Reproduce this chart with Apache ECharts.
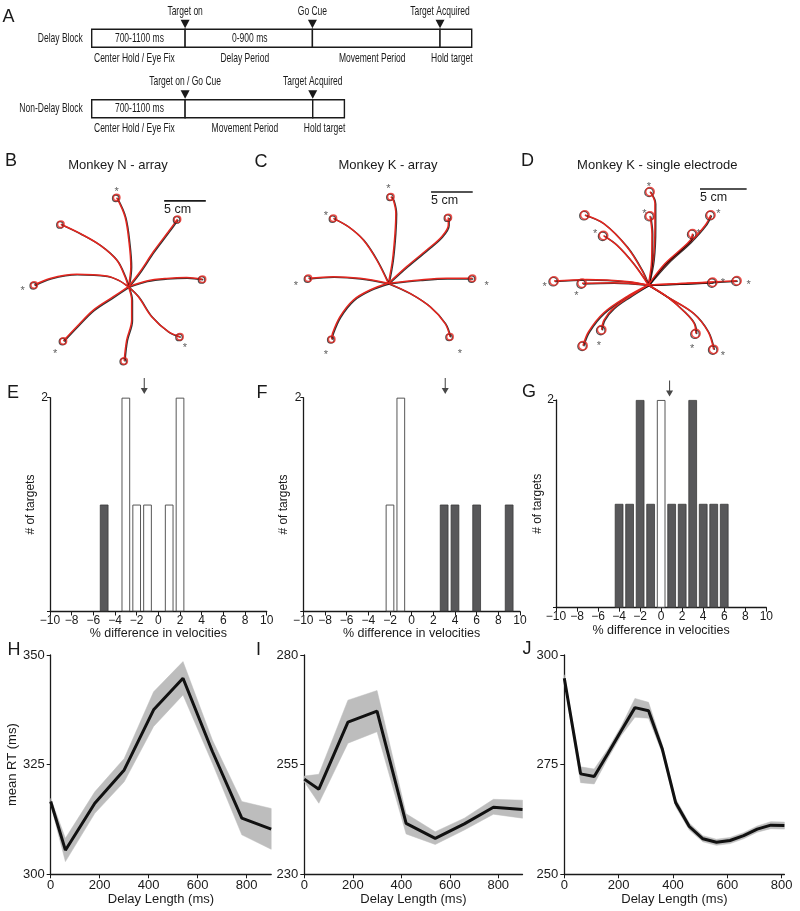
<!DOCTYPE html>
<html><head><meta charset="utf-8">
<script src="https://cdn.jsdelivr.net/npm/echarts@6/dist/echarts.min.js"></script>
<style>html,body{margin:0;padding:0;background:#fff}#c{width:800px;height:911px}</style>
</head><body><div id="c"></div>
<script>
// ---------------- DATA ----------------
// Panel A: timeline (diagram units), [start, end, row]
const timelineRows = ['Delay Block', 'Non-Delay Block'];
const timelineSegments = [[0, 2.95, 0], [2.95, 6.97, 0], [6.97, 11, 0], [11, 12, 0],
                          [0, 2.95, 1], [2.95, 6.98, 1], [6.98, 7.98, 1]];
const segmentInner = ['700-1100 ms', '0-900 ms', '', '', '700-1100 ms', '', ''];
const segmentBelow = ['Center Hold / Eye Fix', 'Delay Period', 'Movement Period', 'Hold target',
                      'Center Hold / Eye Fix', 'Movement Period', 'Hold target'];
const timelineEvents = [[2.95, 0], [6.97, 0], [11, 0], [2.95, 1], [6.98, 1]];
const eventLabels = ['Target on', 'Go Cue', 'Target Acquired', 'Target on / Go Cue', 'Target Acquired'];

// Panels B-D: hand trajectories (cm from centre)
const trajB = [
  [[0,0],[0.3,2.4],[0.1,5.2],[-0.4,8.4],[-1.4,10.7]],
  [[0,0],[-0.4,1.2],[-1.4,3.2],[-3.4,5.0],[-5.8,6.4],[-8.1,7.5]],
  [[0,0],[1.4,1.8],[3.0,4.2],[4.8,6.6],[5.9,8.1]],
  [[0,0],[2.2,0.7],[4.6,1.0],[7.0,1.1],[8.9,0.9]],
  [[0,0],[-1.2,0.8],[-2.6,1.3],[-6.2,1.5],[-9.4,1.0],[-11.3,0.2]],
  [[0,0],[-1.8,-1.2],[-4.2,-2.8],[-6.2,-4.8],[-7.8,-6.5]],
  [[0,0],[0.4,-1.6],[0.4,-4.0],[-0.2,-6.4],[-0.5,-8.9]],
  [[0,0],[1.2,-1.2],[2.8,-3.6],[4.8,-5.4],[6.2,-6.0]]
];
const starsB = [[-1.4,11.7],[-12.7,-0.2],[-8.8,-7.7],[6.8,-7.0]];
const trajC = [
  [[0,0],[0.5,2.8],[0.8,6.0],[0.9,8.4],[0.6,10.0],[0.3,10.4]],
  [[0,0],[-1.4,2.8],[-3.0,5.2],[-4.8,6.8],[-6.6,7.8]],
  [[0,0],[2.2,2.0],[4.6,4.0],[6.4,5.6],[7.2,7.0],[7.2,7.9]],
  [[0,0],[-3.4,0.6],[-6.6,0.8],[-9.6,0.6]],
  [[0,0],[3.8,0.4],[7.0,0.6],[10.1,0.6]],
  [[0,0],[-2.2,-0.8],[-4.2,-2.0],[-5.8,-4.0],[-6.7,-6.0],[-6.8,-6.7]],
  [[0,0],[2.6,-1.2],[5.0,-2.8],[6.8,-4.8],[7.4,-6.4]]
];
const starsC = [[0,11.7],[-7.5,8.4],[-11.1,0.1],[11.8,0.1],[-7.5,-8.2],[8.6,-8.1]];
const trajD = [
  [[0,0],[0.54,2.7],[0.71,6.25],[0.71,8.75],[0.18,10.0]],
  [[0,0],[0.36,2.7],[0.39,5.5],[0.18,7.4]],
  [[0,0],[-0.7,1.6],[-2.3,4.1],[-4.8,6.6],[-6.8,7.5]],
  [[0,0],[-1.6,2.3],[-3.4,4.3],[-4.8,5.3]],
  [[0,0],[2.0,2.3],[4.5,4.6],[6.1,6.4],[6.7,7.5]],
  [[0,0],[1.6,2.1],[3.4,3.75],[4.5,4.8],[4.75,5.5]],
  [[0,0],[-2.0,0.36],[-6.6,0.6],[-10.1,0.43]],
  [[0,0],[-3.75,0.25],[-7.1,0.18]],
  [[0,0],[4.1,0.18],[9.5,0.46]],
  [[0,0],[4.1,0.18],[6.9,0.29]],
  [[0,0],[-2.3,-1.25],[-4.8,-3.0],[-6.4,-5.0],[-7.0,-6.5]],
  [[0,0],[-2.0,-1.25],[-3.75,-2.5],[-4.75,-3.75],[-5.0,-4.8]],
  [[0,0],[2.0,-1.25],[4.8,-3.0],[6.4,-5.0],[7.0,-6.9]],
  [[0,0],[2.0,-1.25],[3.9,-2.9],[4.9,-4.1],[5.1,-5.2]]
];
const starsD = [[0.07,10.8],[-0.43,7.9],[-5.7,5.8],[7.5,7.9],[5.4,5.8],[-11.1,0.07],[-7.7,-0.9],
                [10.75,0.36],[8.0,0.54],[-5.3,-6.2],[8.0,-7.3],[4.7,-6.5]];
const scaleBarB = [[4.3,10.3],[9.3,10.3]];
const scaleBarC = [[5.13,10.96],[10.13,10.96]];
const scaleBarD = [[5.54,10.29],[10.54,10.29]];

// Panels E-G: histograms [% difference, # of targets]
const histE_sig = [[-5,1]];
const histE_ns = [[-3,2],[-2,1],[-1,1],[1,1],[2,2]];
const histF_sig = [[3,1],[4,1],[6,1],[9,1]];
const histF_ns = [[-2,1],[-1,2]];
const histG_sig = [[-4,1],[-3,1],[-2,2],[-1,1],[1,1],[2,1],[3,2],[4,1],[5,1],[6,1]];
const histG_ns = [[0,2]];
const meanE = -1.3, meanF = 3.1, meanG = 0.8;

// Panels H-J: mean RT vs delay
const delayH = [0,60,180,300,420,540,660,780,900];
const rtH    = [316.6,305.5,316.2,323.8,337.5,344.7,328.0,312.8,310.3];
const rtH_hi = [317.3,308.2,318.8,326.4,341.6,348.5,330.6,316.6,315.0];
const rtH_lo = [315.9,302.9,313.9,321.1,333.7,340.9,325.3,309.0,305.7];
const delayI = [0,60,180,300,420,540,660,780,900];
const rtI    = [251.7,249.4,264.7,267.2,241.6,238.2,241.5,245.3,244.8];
const rtI_hi = [252.4,252.8,269.7,271.9,243.8,239.7,242.8,247.1,246.9];
const rtI_lo = [251.1,246.2,259.9,262.5,239.2,236.8,240.1,243.7,242.8];
const delayJ = [0,60,110,160,210,260,310,360,410,460,510,560,610,660,710,760,810];
const rtJ    = [294.7,272.9,272.3,277.5,282.8,288.0,287.3,278.7,266.3,260.9,258.1,257.3,257.7,258.8,260.3,261.2,261.1];
const rtJ_hi = [295.5,274.5,274.0,278.5,283.8,290.1,289.2,279.7,267.2,261.7,258.8,258.0,258.4,259.5,261.0,262.0,261.9];
const rtJ_lo = [294.0,270.9,270.6,276.4,281.7,285.8,285.6,277.7,265.4,260.1,257.4,256.6,257.0,258.1,259.6,260.4,260.3];

// ---------------- STYLE / BUILD ----------------
const FONT = "'Liberation Sans', Arial, Helvetica, sans-serif";
const INK = '#1a1a1a';
const RED = '#e4261f';
const GRAY = '#bdbdbd';
const zip = (xs, ys) => xs.map((x, i) => [x, ys[i]]);
const zip3 = (xs, a, b) => xs.map((x, i) => [x, a[i], b[i]]);
const minus = v => v < 0 ? '\u2212' + (-v) : String(v);

function condText(text, x, y, align) {
  return {type: 'text', x: x, y: y, scaleX: 0.63,
    style: {text: text, x: 0, y: 0, align: align || 'center', verticalAlign: 'middle',
            fontSize: 13.5, fontFamily: FONT, fill: INK}};
}

const grids = [
  {left: 91.7, top: 3, width: 380, height: 141},       // A
  {left: 11.7, top: 178.4, width: 216.6, height: 200}, // B
  {left: 271.7, top: 175, width: 216.6, height: 200},  // C
  {left: 527, top: 163.7, width: 242.6, height: 214.6},// D
  {left: 50, top: 397.7, width: 216.7, height: 213.8}, // E
  {left: 303.3, top: 397.7, width: 216.7, height: 213.8}, // F
  {left: 556, top: 400, width: 210.3, height: 207.7},  // G
  {left: 50.7, top: 655, width: 220.5, height: 219.3}, // H
  {left: 304.3, top: 655, width: 218.2, height: 219.3},// I
  {left: 564.3, top: 655, width: 220.1, height: 219.3} // J
];

const xAxes = [], yAxes = [];
xAxes.push({gridIndex: 0, type: 'value', min: 0, max: 12, show: false});
yAxes.push({gridIndex: 0, type: 'category', data: timelineRows, inverse: true, show: false});
[[1,-14,12,-11,13],[2,-14,12,-11,13],[3,-13,13,-10,13]].forEach(a => {
  xAxes.push({gridIndex: a[0], type: 'value', min: a[1], max: a[2], show: false});
  yAxes.push({gridIndex: a[0], type: 'value', min: a[3], max: a[4], show: false});
});
const axLine = {show: true, onZero: false, lineStyle: {color: INK, width: 1.3}};
[4,5,6].forEach((g, k) => {
  xAxes.push({gridIndex: g, type: 'value', min: -10, max: 10, interval: 2,
    axisLine: axLine, axisTick: {show: true, length: 4, lineStyle: {color: INK, width: 1}},
    axisLabel: {fontSize: 12, color: INK, fontFamily: FONT, margin: 3, formatter: minus},
    splitLine: {show: false},
    name: '% difference in velocities', nameLocation: 'middle', nameGap: 15,
    nameTextStyle: {fontSize: 12.5, color: INK, fontFamily: FONT}});
  yAxes.push({gridIndex: g, type: 'value', min: 0, max: 2, interval: 2,
    axisLine: axLine, axisTick: {show: true, length: 3, lineStyle: {color: INK}},
    axisLabel: {fontSize: 12, color: INK, fontFamily: FONT, margin: 2, formatter: v => v === 2 ? '2' : ''},
    splitLine: {show: false},
    name: '# of targets', nameLocation: 'middle', nameGap: [13, 14, 10][k],
    nameTextStyle: {fontSize: 12, color: INK, fontFamily: FONT}});
});
[[7,900,300,350],[8,900,230,280],[9,810,250,300]].forEach(a => {
  xAxes.push({gridIndex: a[0], type: 'value', min: 0, max: a[1], interval: 200,
    axisLine: axLine, axisTick: {show: true, length: 4, lineStyle: {color: INK}},
    axisLabel: {fontSize: 13, color: INK, fontFamily: FONT, margin: 5, showMaxLabel: false},
    splitLine: {show: false},
    name: 'Delay Length (ms)', nameLocation: 'middle', nameGap: 17,
    nameTextStyle: {fontSize: 13, color: INK, fontFamily: FONT}});
  yAxes.push({gridIndex: a[0], type: 'value', min: a[2], max: a[3], interval: 25,
    axisLine: axLine, axisTick: {show: true, length: 4, lineStyle: {color: INK}},
    axisLabel: {fontSize: 13, color: INK, fontFamily: FONT, margin: 6},
    splitLine: {show: false},
    name: a[0] === 7 ? 'mean RT (ms)' : '', nameLocation: 'middle', nameGap: 27,
    nameTextStyle: {fontSize: 13, color: INK, fontFamily: FONT}});
});

const series = [];
// ---- Panel A ----
series.push({
  type: 'custom', coordinateSystem: 'cartesian2d', xAxisIndex: 0, yAxisIndex: 0,
  data: timelineSegments, encode: {x: [0, 1], y: 2}, clip: false,
  renderItem: function (params, api) {
    const i = params.dataIndex;
    const p0 = api.coord([api.value(0), api.value(2)]);
    const p1 = api.coord([api.value(1), api.value(2)]);
    const h = 18;
    const ch = [{type: 'rect', shape: {x: p0[0], y: p0[1] - h / 2, width: p1[0] - p0[0], height: h},
                 style: {fill: '#fff', stroke: INK, lineWidth: 1.4}}];
    if (segmentInner[i]) ch.push(condText(segmentInner[i], (p0[0] + p1[0]) / 2 + 1, p0[1]));
    ch.push(condText(segmentBelow[i], (p0[0] + p1[0]) / 2 - 4, p0[1] + 20));
    if (api.value(0) === 0) ch.push(condText(timelineRows[api.value(2)], p0[0] - 9, p0[1], 'right'));
    return {type: 'group', children: ch};
  }
});
series.push({
  type: 'custom', coordinateSystem: 'cartesian2d', xAxisIndex: 0, yAxisIndex: 0,
  data: timelineEvents, encode: {x: 0, y: 1}, clip: false,
  renderItem: function (params, api) {
    const p = api.coord([api.value(0), api.value(1)]);
    return {type: 'group', children: [
      {type: 'polygon', shape: {points: [[p[0] - 4.5, p[1] - 18.5], [p[0] + 4.5, p[1] - 18.5], [p[0], p[1] - 10]]},
       style: {fill: INK}},
      condText(eventLabels[params.dataIndex], p[0], p[1] - 27)
    ]};
  }
});

// ---- Panels B-D ----
function trajectories(idx, paths, stars, bar, symSize) {
  const ends = paths.map(p => p[p.length - 1]);
  paths.forEach(p => series.push({
    type: 'line', xAxisIndex: idx, yAxisIndex: idx, data: p, smooth: 0.35, symbol: 'none', clip: false,
    lineStyle: {color: RED, width: 1.5, shadowColor: 'rgba(0,0,0,0.8)', shadowOffsetX: 0.8, shadowOffsetY: 0.6, shadowBlur: 0},
    z: 3, silent: true
  }));
  series.push({type: 'scatter', xAxisIndex: idx, yAxisIndex: idx, data: ends, clip: false,
    symbol: 'circle', symbolSize: symSize, symbolOffset: [-0.9, 0.7],
    itemStyle: {color: 'rgba(255,255,255,0)', borderColor: '#222', borderWidth: 1.3}, z: 4, silent: true});
  series.push({type: 'scatter', xAxisIndex: idx, yAxisIndex: idx, data: ends, clip: false,
    symbol: 'circle', symbolSize: symSize,
    itemStyle: {color: 'rgba(255,255,255,0)', borderColor: RED, borderWidth: 1.5}, z: 5, silent: true});
  series.push({type: 'scatter', xAxisIndex: idx, yAxisIndex: idx, data: stars, clip: false,
    symbolSize: 1, itemStyle: {color: 'rgba(0,0,0,0)'}, z: 5, silent: true,
    label: {show: true, formatter: '*', position: 'inside', fontSize: 11, color: '#333', fontFamily: FONT, offset: [0, 3]}});
  series.push({type: 'line', xAxisIndex: idx, yAxisIndex: idx, data: bar, symbol: 'none', clip: false,
    lineStyle: {color: INK, width: 1.6}, z: 5, silent: true});
}
trajectories(1, trajB, starsB, scaleBarB, 6.5);
trajectories(2, trajC, starsC, scaleBarC, 6.5);
trajectories(3, trajD, starsD, scaleBarD, 8.5);

// ---- Panels E-G ----
const arrowPath = 'path://M3.4,0 L4.6,0 L4.6,10 L8,10 L4,16 L0,10 L3.4,10 Z';
function histogram(idx, sig, ns, mean) {
  series.push({type: 'bar', xAxisIndex: idx, yAxisIndex: idx, data: sig, barWidth: 8.6, barGap: '-100%',
    itemStyle: {color: '#58585a', borderColor: '#3a3a3a', borderWidth: 0.8}, silent: true});
  series.push({type: 'bar', xAxisIndex: idx, yAxisIndex: idx, data: ns, barWidth: 8.6, barGap: '-100%',
    itemStyle: {color: '#ffffff', borderColor: '#444', borderWidth: 0.9}, silent: true});
  series.push({type: 'scatter', xAxisIndex: idx, yAxisIndex: idx, data: [[mean, 2.11]], clip: false,
    symbol: arrowPath, symbolSize: [7, 16], itemStyle: {color: INK}, silent: true});
}
histogram(4, histE_sig, histE_ns, meanE);
histogram(5, histF_sig, histF_ns, meanF);
histogram(6, histG_sig, histG_ns, meanG);

// ---- Panels H-J ----
function rtPanel(idx, xs, mean, hi, lo) {
  series.push({type: 'custom', coordinateSystem: 'cartesian2d', xAxisIndex: idx, yAxisIndex: idx,
    data: zip3(xs, hi, lo), encode: {x: 0, y: [1, 2]}, z: 1, silent: true,
    renderItem: function (params, api) {
      if (params.dataIndex !== 0) return {type: 'group', children: []};
      const pts = [];
      for (let i = 0; i < xs.length; i++) pts.push(api.coord([xs[i], hi[i]]));
      for (let i = xs.length - 1; i >= 0; i--) pts.push(api.coord([xs[i], lo[i]]));
      return {type: 'polygon', shape: {points: pts}, style: {fill: GRAY, stroke: GRAY, lineWidth: 0.5}};
    }});
  series.push({type: 'line', xAxisIndex: idx, yAxisIndex: idx, data: zip(xs, mean), symbol: 'none',
    lineStyle: {color: '#111', width: 3}, z: 3, silent: true});
}
rtPanel(7, delayH, rtH, rtH_hi, rtH_lo);
rtPanel(8, delayI, rtI, rtI_hi, rtI_lo);
rtPanel(9, delayJ, rtJ, rtJ_hi, rtJ_lo);

// ---- text decorations ----
function txt(text, x, y, size, align) {
  return {type: 'text', x: x, y: y, style: {text: text, fontSize: size, fontFamily: FONT, fill: INK,
    align: align || 'center', verticalAlign: 'middle'}};
}
const letters = [['A',8.5,17.5],['B',11,161.5],['C',261,162],['D',527.5,161.5],['E',13,393],['F',262,393],
                 ['G',529,392],['H',14,650],['I',258.5,650],['J',527,649]];
const graphics = letters.map(l => txt(l[0], l[1], l[2], 18));
graphics.push(txt('Monkey N - array', 118, 165.3, 13));
graphics.push(txt('Monkey K - array', 388, 165, 13));
graphics.push(txt('Monkey K - single electrode', 657.3, 165, 13));
graphics.push(txt('5 cm', 164, 210, 12.5, 'left'));
graphics.push(txt('5 cm', 431, 201, 12.5, 'left'));
graphics.push(txt('5 cm', 700, 198, 12.5, 'left'));

const chart = echarts.init(document.getElementById('c'), null, {renderer: 'canvas'});
chart.setOption({
  backgroundColor: '#fff', animation: false,
  grid: grids, xAxis: xAxes, yAxis: yAxes, series: series, graphic: graphics
});
</script></body></html>
